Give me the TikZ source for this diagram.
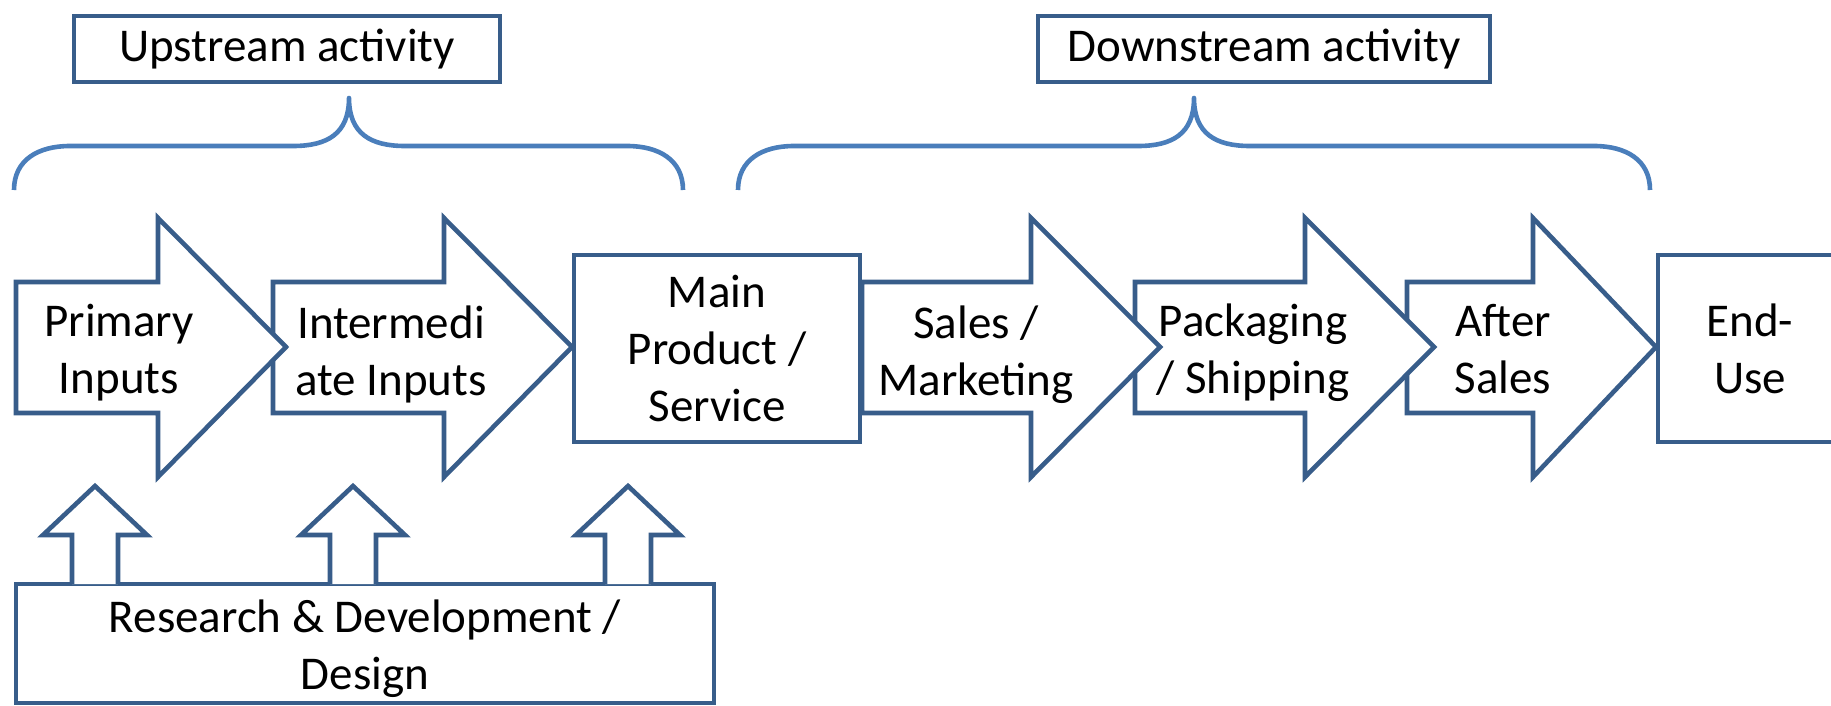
\documentclass[tikz,border=0pt]{standalone}
\usepackage{fontspec}
\setmainfont{Carlito}
\definecolor{boxline}{RGB}{56,93,138}
\definecolor{braceline}{RGB}{74,126,187}

\begin{document}
\begin{tikzpicture}[x=1pt,y=-1pt,
	shape line/.style={draw=boxline,line width=4.6pt,fill=white},
	box node/.style={shape line,rectangle,align=center,inner sep=0pt,font=\fontsize{47}{57}\selectfont},
	text node/.style={align=center,inner sep=0pt,font=\fontsize{47}{57}\selectfont},
	brace line/.style={draw=braceline,line width=4.6pt,line join=round}]
	
	\useasboundingbox (0,0) rectangle (1831,706);
	\clip (0,0) rectangle (1831,706);
	
	% braces over the two groups
	\foreach \a/\m/\b in {14/349/683, 738/1194/1650}
	\draw[brace line] (\a,190) .. controls (\a,160) and ({\a+24},146) .. ({\a+56},146)
	-- ({\m-56},146) .. controls ({\m-22},146) and (\m,134) .. (\m,98)
	.. controls (\m,134) and ({\m+22},146) .. ({\m+56},146)
	-- ({\b-56},146) .. controls ({\b-24},146) and (\b,160) .. (\b,190);
	
	\node[box node,minimum width=426pt,minimum height=66pt] (upstream) at (287,49) {Upstream activity};
	\node[box node,minimum width=452pt,minimum height=66pt] (downstream) at (1264,49) {Downstream activity};
	
	% block arrows, right to left so each tip lies on the next one
	\foreach \l/\b/\t in {1407/1533/1656, 1135/1305/1434, 862/1031/1160, 273/444/572, 16/158/286}
	\draw[shape line] (\l,282) -- (\b,282) -- (\b,218) -- (\t,347) -- (\b,477) -- (\b,413) -- (\l,413) -- cycle;
	
	\node[box node,minimum width=286pt,minimum height=187pt] (main) at (717,348.5) {Main\\Product /\\Service};
	\node[box node,minimum width=184pt,minimum height=187pt] (enduse) at (1750,348.5) {End-\\Use};
	
	\node[text node] (primary) at (119,353) {Primary\\Inputs};
	\node[text node] (intermediate) at (391,354.5) {Intermedi\\ate Inputs};
	\node[text node] (sales) at (976,354.5) {Sales /\\Marketing};
	\node[text node] (packaging) at (1253,352.5) {Packaging\\/ Shipping};
	\node[text node] (aftersales) at (1503,349.5) {After\\Sales};
	
	\node[box node,minimum width=698pt,minimum height=119pt] (rnd) at (365,643.5) {};
	\node[text node,yshift=-5pt] (rndlabel) at (rnd) {Research \& Development /\\Design};
	
	% small arrows from R&D
	\foreach \c in {95,353,628}
	\draw[shape line] ({\c-23},584) -- ({\c-23},535) -- ({\c-52},535) -- (\c,486)
	-- ({\c+52},535) -- ({\c+23},535) -- ({\c+23},584);
\end{tikzpicture}
\end{document}
